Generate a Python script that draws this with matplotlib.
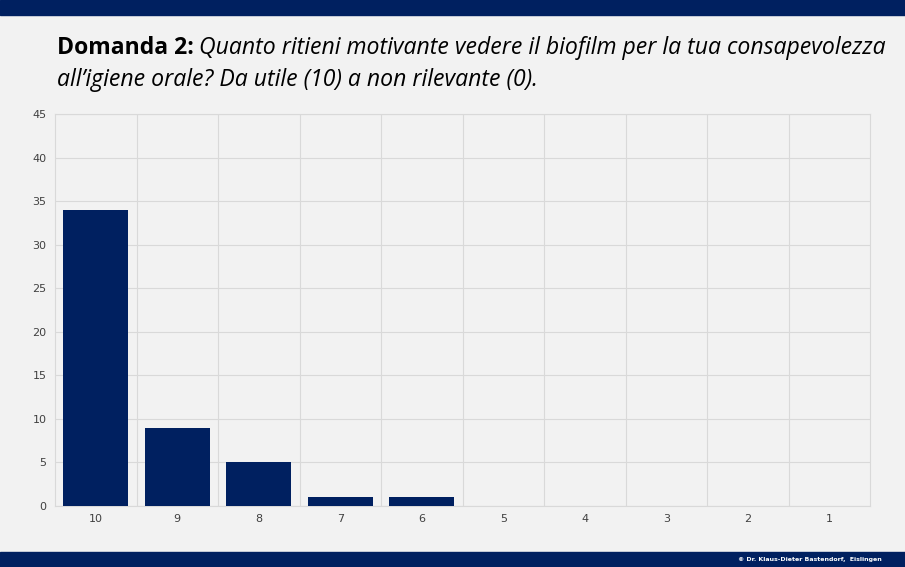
import matplotlib
matplotlib.use("Agg")
import matplotlib.pyplot as plt
from matplotlib.patches import Rectangle

categories = ["10", "9", "8", "7", "6", "5", "4", "3", "2", "1"]
values = [34, 9, 5, 1, 1, 0, 0, 0, 0, 0]

navy = "#002060"
bg = "#f2f2f2"

fig = plt.figure(figsize=(9.05, 5.67), dpi=100, facecolor=bg)
ax = fig.add_axes([55 / 905, 1 - 506 / 567, 815 / 905, 392 / 567])
ax.set_facecolor(bg)

x = range(len(categories))
ax.bar(x, values, width=0.8, color=navy, zorder=3)
ax.set_xlim(-0.5, len(categories) - 0.5)
ax.set_ylim(0, 45)
ax.set_yticks(range(0, 46, 5))
ax.set_xticks(list(x))
ax.set_xticklabels(categories)
ax.tick_params(length=0, labelsize=8, colors="#404040", pad=6)
ax.set_xticks([i + 0.5 for i in x][:-1], minor=True)
ax.grid(True, which="major", axis="y", color="#d9d9d9", lw=0.8, zorder=0)
ax.grid(True, which="minor", axis="x", color="#d9d9d9", lw=0.8, zorder=0)
ax.tick_params(which="minor", length=0)
for s in ax.spines.values():
    s.set_color("#d9d9d9")
    s.set_linewidth(0.8)

# bands top and bottom
fig.patches.append(Rectangle((0, 1 - 15 / 567), 1, 15 / 567, transform=fig.transFigure, color=navy, zorder=0))
fig.patches.append(Rectangle((0, 0), 1, 15 / 567, transform=fig.transFigure, color=navy, zorder=0))
fig.text(882 / 905, 7 / 567, "© Dr. Klaus-Dieter Bastendorf,  Eislingen", color="white",
         fontsize=4.5, fontweight="bold", ha="right", va="center")

# title
fam = "Open Sans"
fs = 16.6
t1 = fig.text(57 / 905, 1 - 48 / 567, "Domanda 2:", fontsize=fs, fontweight="bold",
              family=fam, va="center", color="black")
fig.canvas.draw()
bb = t1.get_window_extent()
fig.text((bb.x1 + 5) / 905, 1 - 48 / 567,
         "Quanto ritieni motivante vedere il biofilm per la tua consapevolezza",
         fontsize=fs, style="italic", family=fam, va="center", color="black")
fig.text(57 / 905, 1 - 80 / 567, "all’igiene orale? Da utile (10) a non rilevante (0).",
         fontsize=fs, style="italic", family=fam, va="center", color="black")

fig.savefig("out.png", dpi=100, facecolor=bg)
